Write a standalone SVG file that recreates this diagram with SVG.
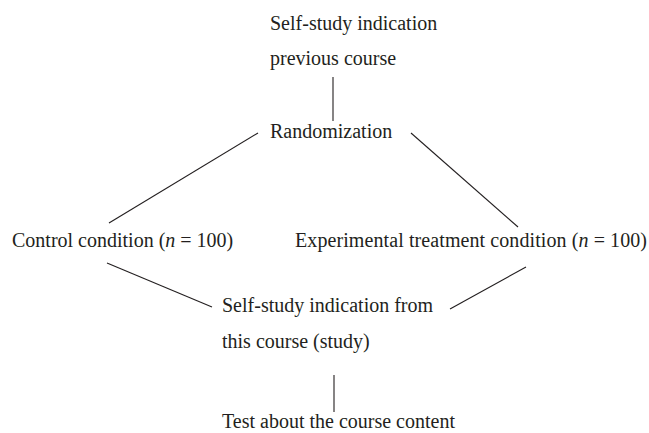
<svg xmlns="http://www.w3.org/2000/svg" width="649" height="433" viewBox="0 0 649 433">
<style>
text{font-family:"Liberation Serif","Times New Roman",serif;font-size:20px;fill:#231f20}
line{stroke:#231f20;stroke-width:1.1}
</style>
<rect width="649" height="433" fill="#fff"/>
<g id="connectors">
<line x1="333" y1="77" x2="333" y2="121"/>
<line x1="258" y1="133" x2="109" y2="223"/>
<line x1="411" y1="133" x2="518" y2="227"/>
<line x1="107" y1="263" x2="212" y2="307"/>
<line x1="526" y1="267" x2="450" y2="309"/>
<line x1="334" y1="375" x2="334" y2="412"/>
</g>
<g id="previous"><text x="270" y="30">Self-study indication</text><text x="270" y="65">previous course</text></g>
<g id="randomization"><text x="270" y="138">Randomization</text></g>
<g id="control"><text x="12" y="247">Control condition (<tspan font-style="italic">n</tspan> = 100)</text></g>
<g id="experimental"><text x="295" y="247" textLength="352">Experimental treatment condition (<tspan font-style="italic">n</tspan> = 100)</text></g>
<g id="study"><text x="222" y="312">Self-study indication from</text><text x="222" y="348">this course (study)</text></g>
<g id="test"><text x="222" y="428">Test about the course content</text></g>
</svg>
